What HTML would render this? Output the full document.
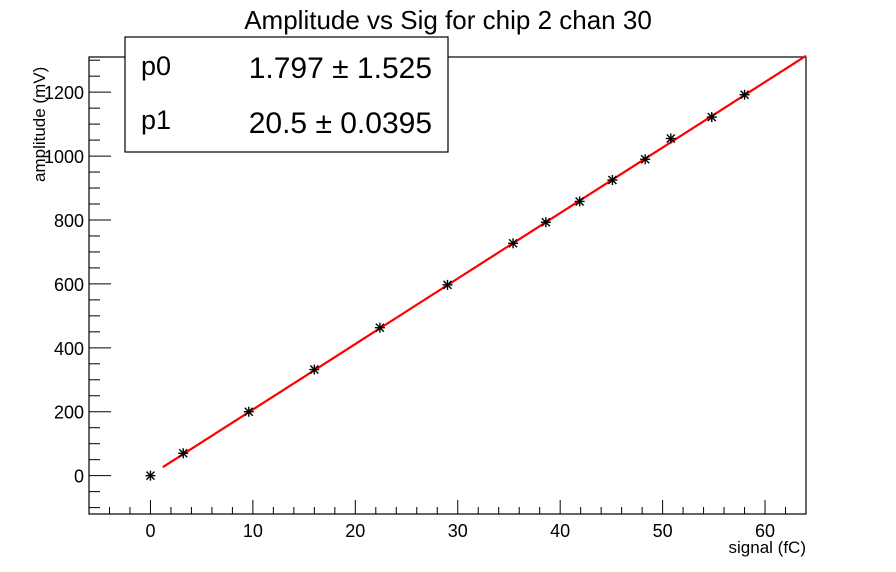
<!DOCTYPE html>
<html><head><meta charset="utf-8"><style>
body{margin:0;background:#fff;}
svg{display:block;font-family:"Liberation Sans",sans-serif;}
</style></head><body>
<svg id="c" width="896" height="572" viewBox="0 0 896 572">
<text x="448" y="29" font-size="26" text-anchor="middle">Amplitude vs Sig for chip 2 chan 30</text>
<rect x="89" y="57" width="717" height="457" fill="none" stroke="#000" stroke-width="1.2"/>
<g id="axes"></g>
<g id="marks"></g>
<text x="806" y="553" font-size="17" text-anchor="end">signal (fC)</text>
<text transform="translate(45,182) rotate(-90)" font-size="17" text-anchor="start">amplitude (mV)</text>
<g>
<rect x="125" y="37" width="323" height="115" fill="#fff" stroke="#000" stroke-width="1.2"/>
<text x="141" y="75" font-size="27">p0</text>
<text x="432" y="78" font-size="30" text-anchor="end">1.797 ± 1.525</text>
<text x="141" y="129" font-size="27">p1</text>
<text x="432" y="133" font-size="30" text-anchor="end">20.5 ± 0.0395</text>
</g>
</svg>
<script>
const xs=[0,3.2,9.6,16,22.4,29,35.4,38.6,41.9,45.1,48.3,50.8,54.8,58];
const ys=[0,70,200,332,463,597,727,793,858,925,990,1055,1122,1192];
const fitP0=1.797, fitP1=20.5;
const xTicks=[0,10,20,30,40,50,60];
const yTicks=[0,200,400,600,800,1000,1200];
const L=89,R=806,T=57,B=514,xmin=-6,xmax=64,ymin=-120,ymax=1310;
const X=v=>L+(v-xmin)/(xmax-xmin)*(R-L);
const Y=v=>B-(v-ymin)/(ymax-ymin)*(B-T);
const NS="http://www.w3.org/2000/svg";
function mk(t,a,p){const e=document.createElementNS(NS,t);for(const k in a)e.setAttribute(k,a[k]);p.appendChild(e);return e;}
const ax=document.getElementById('axes'),mg=document.getElementById('marks');
for(let v=-4;v<=64;v+=2){const big=v%10===0;const l=mk('line',{x1:X(v),x2:X(v),y1:B,y2:B-(big?14:7),stroke:'#000'},ax);
}
xTicks.forEach(v=>{const t=mk('text',{x:X(v),y:B+23,'font-size':18,'text-anchor':'middle'},ax);t.textContent=v;
});
for(let v=-100;v<=1300;v+=50){const big=v%200===0;const l=mk('line',{x1:L,x2:L+(big?22:11),y1:Y(v),y2:Y(v),stroke:'#000'},ax);
}
yTicks.forEach(v=>{const t=mk('text',{x:L-5,y:Y(v)+7,'font-size':18,'text-anchor':'end'},ax);t.textContent=v;
});
const fx0=1.2,fx1=64;
const fl=mk('line',{x1:X(fx0),y1:Y(fitP0+fitP1*fx0),x2:X(fx1),y2:Y(fitP0+fitP1*fx1),stroke:'#f00','stroke-width':2.2},mg);

xs.forEach((x,i)=>{const g=mk('g',{transform:`translate(${X(x)},${Y(ys[i])})`,stroke:'#000','stroke-width':1.4},mg);

mk('line',{x1:-5,x2:5,y1:0,y2:0},g);mk('line',{x1:0,x2:0,y1:-5,y2:5},g);
mk('line',{x1:-4,x2:4,y1:-4,y2:4},g);mk('line',{x1:-4,x2:4,y1:4,y2:-4},g);});
</script>
</body></html>
